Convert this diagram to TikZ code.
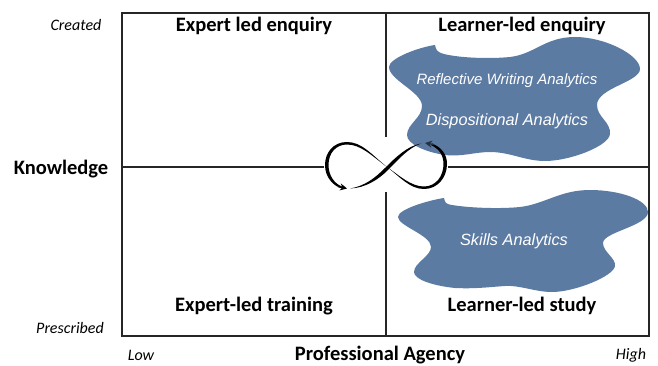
\documentclass[tikz,border=0pt]{standalone}
\usepackage{fontspec}
\setmainfont{Carlito}
\newfontfamily\blobfont{Liberation Sans}
\usetikzlibrary{positioning,arrows.meta}
\definecolor{blobblue}{HTML}{5C7BA3}
\definecolor{gridgray}{HTML}{262626}
\tikzstyle{title} = [font=\fontsize{20.5}{22}\selectfont\bfseries, text=black, inner sep=0pt]
\tikzstyle{axis} = [font=\fontsize{16}{18}\selectfont\itshape, text=black, inner sep=0pt]
\tikzstyle{analytics} = [font=\blobfont\fontsize{16.3}{18}\selectfont\itshape, text=white, inner sep=0pt]
\tikzstyle{grid} = [draw=gridgray, line width=1.3pt]
\tikzstyle{blob} = [fill=blobblue, draw=none]
\tikzstyle{loopline} = [fill=black, draw=none]
\tikzstyle{looptip} = [-{Stealth[length=7pt,width=7pt]}, line width=1.2pt]
\begin{document}
\begin{tikzpicture}[x=1pt,y=-1pt]
		\useasboundingbox (0,0) rectangle (658,366);
		
		% the frame and its two axes
		\draw [grid] (122,13) rectangle (649,336);
		\coordinate (mid-top) at (386,13);
		\coordinate (mid-bottom) at (386,336);
		\coordinate (mid-left) at (122,167);
		\coordinate (mid-right) at (649,167);
		\coordinate (gap-top) at (386,137);
		\coordinate (gap-bottom) at (386,192);
		\coordinate (gap-left) at (324,167);
		\coordinate (gap-right) at (448,167);
		\draw [grid] (mid-top) -- (gap-top);
		\draw [grid] (gap-bottom) -- (mid-bottom);
		\draw [grid] (mid-left) -- (gap-left);
		\draw [grid] (gap-right) -- (mid-right);
		
		% upper blob
		\path [blob] (435,45) .. controls (436,49) and (436,52) .. (444,54)
		.. controls (460,58) and (490,59) .. (510,57)
		.. controls (535,54) and (545,37) .. (575,37)
		.. controls (605,37) and (640,55) .. (640,69)
		.. controls (640,82) and (597,88) .. (597,105)
		.. controls (597,117) and (611,122) .. (610,134)
		.. controls (609,146) and (570,161) .. (545,161)
		.. controls (525,161) and (510,152) .. (490,152)
		.. controls (475,152) and (462,157) .. (445,155)
		.. controls (425,152) and (407,144) .. (407,135)
		.. controls (407,124) and (422,118) .. (422,106)
		.. controls (422,92) and (389,80) .. (389,67)
		.. controls (389,58) and (420,47) .. (435,45) -- cycle;
		
		% lower blob
		\path [blob] (444,198) .. controls (445,202) and (445,204) .. (452,205)
		.. controls (470,208) and (500,209) .. (520,207)
		.. controls (545,204) and (560,190) .. (590,190)
		.. controls (620,190) and (648,200) .. (648,212)
		.. controls (648,226) and (603,232) .. (603,243)
		.. controls (603,252) and (616,258) .. (615,266)
		.. controls (614,276) and (575,292) .. (552,292)
		.. controls (535,292) and (520,285) .. (505,286)
		.. controls (490,287) and (475,289) .. (455,288)
		.. controls (435,286) and (414,280) .. (414,272)
		.. controls (414,263) and (431,256) .. (431,247)
		.. controls (431,235) and (398,226) .. (398,217)
		.. controls (398,209) and (430,200) .. (444,198) -- cycle;
		
		% the figure of eight, tapering towards its ends
		\path [loopline] (387,167) .. controls (372,155) and (362,142) .. (347,142)
		.. controls (333,142) and (325,153) .. (325,165)
		.. controls (325,177) and (333,186) .. (342,188.5)
		-- (342,186.5) .. controls (335,184) and (328.5,176) .. (328.5,165)
		.. controls (328.5,153) and (336,144.5) .. (347,144.5)
		.. controls (361,144.5) and (372,156) .. (387,167) -- cycle;
		\path [loopline] (387,167) .. controls (400,177) and (410,189) .. (424,189)
		.. controls (438,189) and (447,177) .. (447,164)
		.. controls (447,154) and (441,147) .. (432,143.5)
		-- (431,145) .. controls (439,149) and (443.5,155) .. (443.5,164)
		.. controls (443.5,176) and (436,186.5) .. (424,186.5)
		.. controls (411,186.5) and (400,176) .. (387,167) -- cycle;
		\path [loopline] (350,188.5) .. controls (365,186) and (375,178) .. (385,168)
		.. controls (395,158) and (407,146) .. (421,143.5)
		.. controls (408,148) and (398,160) .. (388,170)
		.. controls (378,180) and (365,188) .. (350,188.5) -- cycle;
		\coordinate (tip-left-start) at (338,186.5);
		\coordinate (tip-left-end) at (347,188.5);
		\coordinate (tip-right-start) at (434,144.5);
		\coordinate (tip-right-end) at (425,143);
		\draw [looptip, black] (tip-left-start) -- (tip-left-end);
		\draw [looptip, black!60!blobblue] (tip-right-start) -- (tip-right-end);
		
		% quadrant titles
		\node (expert-enquiry) [title] at (254,26) {Expert led enquiry};
		\node (learner-enquiry) [title] at (522,26) {Learner-led enquiry};
		\node (expert-training) [title] at (254,306) {Expert-led training};
		\node (learner-study) [title] at (522,306) {Learner-led study};
		
		% axis labels
		\node (knowledge) [title] at (61,169) {Knowledge};
		\node (agency) [title] at (380,355) {Professional Agency};
		\node (created) [axis] at (76,25) {Created};
		\node (prescribed) [axis] at (70,328) {Prescribed};
		\node (low) [axis] at (141,355) {Low};
		\node (high) [axis] at (631,355) {High};
		
		% analytics in the blobs
		\node (reflective) [analytics, font=\blobfont\fontsize{15}{17}\selectfont\itshape] at (507,81) {Reflective Writing Analytics};
		\node (dispositional) [analytics] at (507,121) {Dispositional Analytics};
		\node (skills) [analytics] at (514,241) {Skills Analytics};
		
	\end{tikzpicture}
\end{document}
